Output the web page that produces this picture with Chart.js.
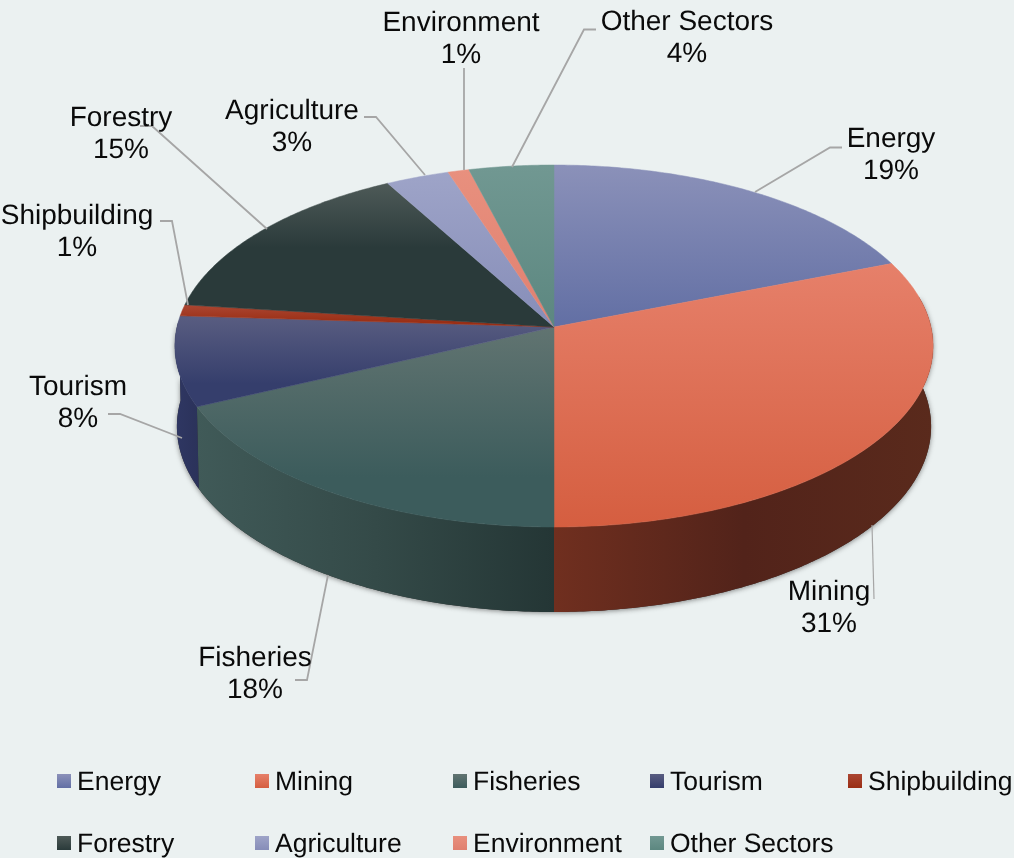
<!DOCTYPE html>
<html>
<head>
<meta charset="utf-8">
<style>
  html, body { margin: 0; padding: 0; background: #ebf1f1; }
  canvas { display: block; }
</style>
<script src="https://cdn.jsdelivr.net/npm/chart.js@4/dist/chart.umd.min.js"></script>
</head>
<body>
<canvas id="myChart" width="1014" height="858"></canvas>
<script>
let categories = ['Energy', 'Mining', 'Fisheries', 'Tourism', 'Shipbuilding', 'Forestry', 'Agriculture', 'Environment', 'Other Sectors'];
let shares = [19, 31, 18, 8, 1, 15, 3, 1, 4];

// face colours: [light, dark, where the dark colour is reached]
let topColors = [
  ['#8b91b9', '#626fa4', 1],
  ['#e6806a', '#d55e40', 1],
  ['#617471', '#3c5c5c', 0.75],
  ['#595d81', '#353e6c', 0.75],
  ['#ab4632', '#9a2e14', 0.8],
  ['#4e5a58', '#2a3a3a', 0.45],
  ['#9ea4c8', '#868db8', 1],
  ['#e8907e', '#e08070', 1],
  ['#719892', '#5c8780', 1]
];
let wallColors = [
  ['#3e4468', '#3e4468'],
  ['#702f1f', '#52231a', '#5a2a1c'],
  ['#405a58', '#344a48', '#243635'],
  ['#2f3763', '#2b325a'],
  ['#6e2412', '#6e2412'],
  ['#1f2c2c', '#1f2c2c'],
  ['#5f6585', '#5f6585'],
  ['#a0655a', '#a0655a'],
  ['#44665f', '#44665f']
];

// label centre, then the leader polyline
let labelLayout = [
  { x: 891, y: 139, line: [[755, 192], [830, 147.5], [842, 147.5]] },
  { x: 829, y: 592, line: [[872, 525], [874, 599]], thin: true },
  { x: 255, y: 658, line: [[328, 575], [307, 680], [295, 680]] },
  { x: 78, y: 387, line: [[182, 438], [120, 414], [108, 414]] },
  { x: 77, y: 216, line: [[188, 305], [172, 221], [160, 221]] },
  { x: 121, y: 118, line: [[267, 229], [152, 126], [140, 126]] },
  { x: 292, y: 111, line: [[425, 175], [376, 117], [364, 117]] },
  { x: 461, y: 23, line: [[464, 170], [464, 68]] },
  { x: 687, y: 22, line: [[512, 167], [584, 29.5], [596, 29.5]] }
];
let legendColumns = [57, 255, 453, 650, 848];
let legendRows = [781, 843];

// perspective of the tilted disc: the apex sits above the middle of the ellipse
let disc = { x: 554, y: 327, w: 377, h: 179, k: 0.105 };
let base = { x: 554, y: 407, w: 375, h: 183.5, k: 0.105 };
// only this stretch of the rim has a visible wall
let wallFrom = 80 * Math.PI / 180;
let wallTo = 272 * Math.PI / 180;

function project(p, theta) {
  let u = Math.sin(theta);
  let v = -Math.cos(theta);
  let d = 1 - p.k * v;
  return [p.x + p.w * u / d, p.y + p.h * v / d];
}

function rim(p, a, b) {
  let pts = [];
  let n = Math.max(2, Math.ceil((b - a) / 0.01));
  for (let i = 0; i <= n; i++) {
    pts.push(project(p, a + (b - a) * i / n));
  }
  return pts;
}

function tracePath(ctx, pts) {
  ctx.beginPath();
  pts.forEach(function (pt, i) {
    if (i == 0) ctx.moveTo(pt[0], pt[1]);
    else ctx.lineTo(pt[0], pt[1]);
  });
  ctx.closePath();
}

function sliceAngles(chart) {
  return chart.getDatasetMeta(0).data.map(function (arc, i) {
    return { i: i, a: arc.startAngle + Math.PI / 2, b: arc.endAngle + Math.PI / 2 };
  });
}

function topFill(ctx, pts, colors) {
  let ys = pts.map(function (pt) { return pt[1]; });
  let y0 = Math.min.apply(null, ys);
  let y1 = Math.max.apply(null, ys);
  let g = ctx.createLinearGradient(0, y0, 0, y1);
  g.addColorStop(0, colors[0]);
  g.addColorStop(colors[2], colors[1]);
  g.addColorStop(1, colors[1]);
  return g;
}

function wallFill(ctx, pts, colors) {
  let xs = pts.map(function (pt) { return pt[0]; });
  let g = ctx.createLinearGradient(Math.min.apply(null, xs), 0, Math.max.apply(null, xs), 0);
  colors.forEach(function (c, i) { g.addColorStop(i / (colors.length - 1), c); });
  return g;
}

// pie slices are taken from the arc elements and drawn on the tilted disc
let tiltedPie = {
  id: 'tiltedPie',
  beforeDatasetsDraw: function (chart) {
    let ctx = chart.ctx;
    let slices = sliceAngles(chart);

    // soft shadow under the whole wall silhouette
    ctx.save();
    ctx.shadowColor = 'rgba(40,40,40,0.55)';
    ctx.shadowBlur = 5;
    ctx.shadowOffsetY = 1;
    tracePath(ctx, rim(disc, wallFrom, wallTo).concat(rim(base, wallFrom, wallTo).reverse()));
    ctx.fillStyle = '#333333';
    ctx.fill();
    ctx.restore();

    slices.forEach(function (s) {
      let a = Math.max(s.a, wallFrom);
      let b = Math.min(s.b, wallTo);
      if (b <= a) return;
      let pts = rim(disc, a, b).concat(rim(base, a, b).reverse());
      tracePath(ctx, pts);
      ctx.fillStyle = wallFill(ctx, pts, wallColors[s.i]);
      ctx.fill();
    });

    slices.forEach(function (s) {
      let pts = [[disc.x, disc.y]].concat(rim(disc, s.a, s.b));
      tracePath(ctx, pts);
      ctx.fillStyle = topFill(ctx, pts, topColors[s.i]);
      ctx.fill();
      ctx.strokeStyle = ctx.fillStyle;
      ctx.lineWidth = 0.5;
      ctx.stroke();
    });
    return false;
  },
  afterDraw: function (chart) {
    let ctx = chart.ctx;
    ctx.save();

    labelLayout.forEach(function (l) {
      ctx.beginPath();
      l.line.forEach(function (pt, i) {
        if (i == 0) ctx.moveTo(pt[0], pt[1]);
        else ctx.lineTo(pt[0], pt[1]);
      });
      ctx.strokeStyle = '#a6a6a6';
      ctx.lineWidth = l.thin ? 1.2 : 1.8;
      ctx.stroke();
    });

    ctx.textRendering = 'geometricPrecision';
    ctx.fillStyle = '#0a0a0a';
    ctx.font = '28px "Liberation Sans"';
    ctx.textAlign = 'center';
    ctx.textBaseline = 'middle';
    categories.forEach(function (name, i) {
      let l = labelLayout[i];
      ctx.fillText(name, l.x, l.y);
      ctx.fillText(shares[i] + '%', l.x, l.y + 32);
    });

    ctx.font = '26.5px "Liberation Sans"';
    ctx.textAlign = 'left';
    categories.forEach(function (name, i) {
      let col = legendColumns[i % 5];
      let row = legendRows[Math.floor(i / 5)];
      let g = ctx.createLinearGradient(0, row - 7, 0, row + 7);
      g.addColorStop(0, topColors[i][0]);
      g.addColorStop(1, topColors[i][1]);
      ctx.fillStyle = g;
      ctx.fillRect(col, row - 7, 14, 14);
      ctx.fillStyle = '#0a0a0a';
      ctx.fillText(name, col + 20, row + 2);
    });
    ctx.restore();
  }
};

new Chart(document.getElementById('myChart'), {
  type: 'pie',
  data: {
    labels: categories,
    datasets: [{
      data: shares,
      backgroundColor: topColors.map(function (c) { return c[1]; })
    }]
  },
  options: {
    responsive: false,
    animation: false,
    plugins: {
      legend: { display: false },
      tooltip: { enabled: false }
    }
  },
  plugins: [tiltedPie]
});
</script>
</body>
</html>
